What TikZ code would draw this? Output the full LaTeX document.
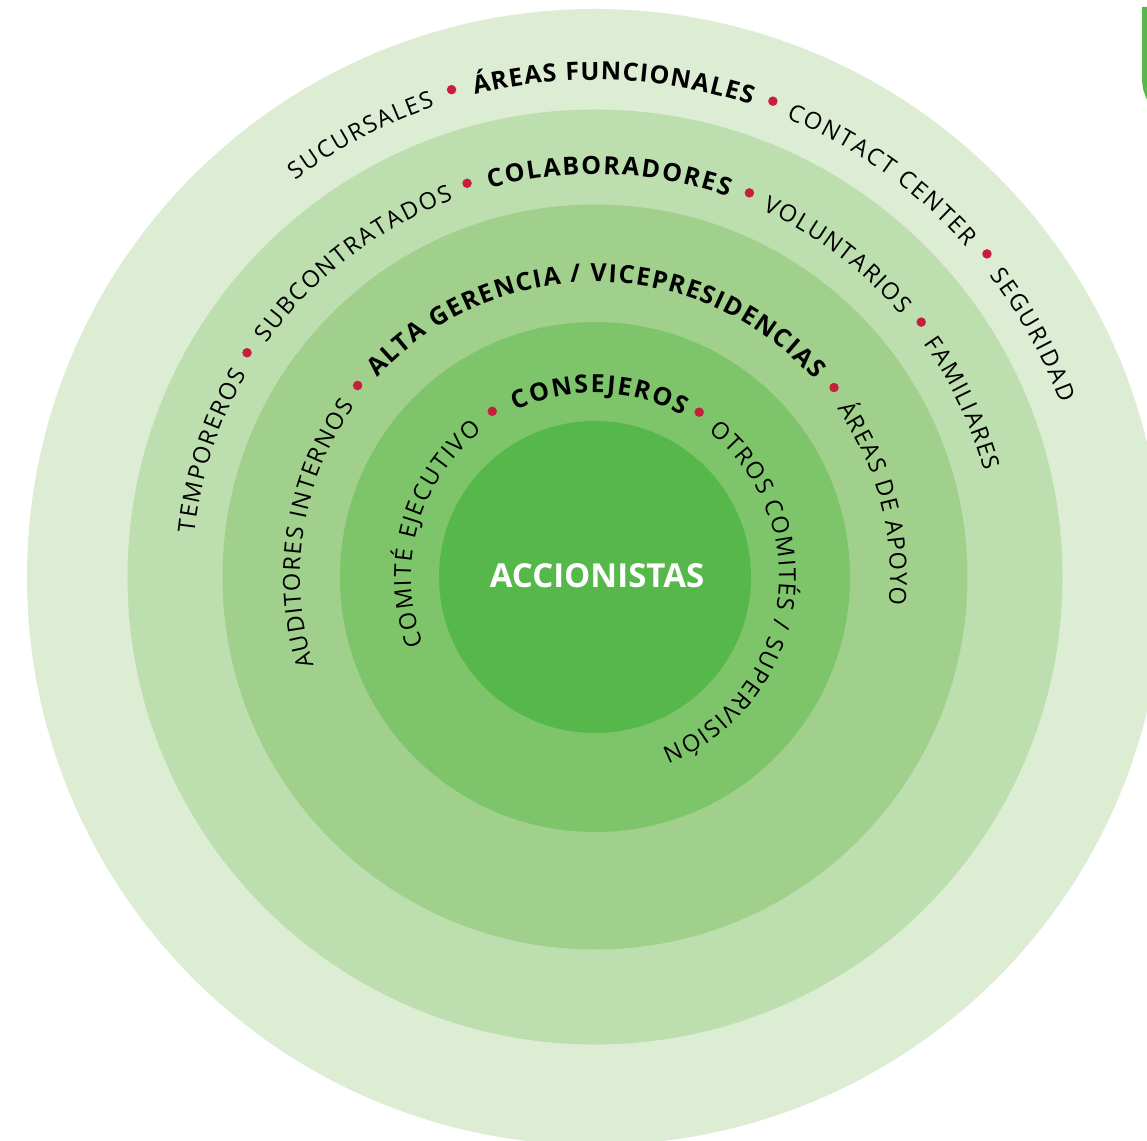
\documentclass[tikz,border=0pt]{standalone}
\usepackage{fontspec}
\newfontfamily\ringfont{Open Sans}
\usetikzlibrary{decorations.text}
\definecolor{ringA}{RGB}{221,237,212}
\definecolor{ringB}{RGB}{189,222,175}
\definecolor{ringC}{RGB}{160,208,140}
\definecolor{ringD}{RGB}{126,196,106}
\definecolor{ringE}{RGB}{86,184,74}
\definecolor{dotred}{RGB}{200,30,62}
\newcommand\rf{\ringfont\fontsize{23.5}{27}\selectfont}
\newcommand\rb{\ringfont\bfseries\fontsize{25}{29}\selectfont}
\begin{document}
\begin{tikzpicture}[
  ring/.style={circle, minimum size=#1, inner sep=0pt, draw=none},
  dotn/.style={circle, fill=dotred, minimum size=9.5pt, inner sep=0pt},
  arctext/.style={decorate, decoration={text along path, text={#1}, text align={fit to path}}}
]
\useasboundingbox (-595pt,-563pt) rectangle (552pt,577pt);
\fill[white] (-595pt,-563pt) rectangle (552pt,577pt);
\clip (-595pt,-563pt) rectangle (552pt,577pt);
% rings
\node[ring=1136pt, fill=ringA] (r1) at (0,0) {};
\node[ring=935pt, fill=ringB] (r2) at (0,0) {};
\node[ring=745pt, fill=ringC] (r3) at (0,0) {};
\node[ring=510pt, fill=ringD] (r4) at (0,0) {};
\node[ring=312pt, fill=ringE] (r5) at (0,0) {};
\node[font=\ringfont\bfseries\fontsize{33}{33}\selectfont, text=white] (acc) at (2pt,1pt) {ACCIONISTAS};
% corner mark
\fill[ringE] (547pt,570pt) -- (547pt,500pt) to[out=-90,in=115] (553pt,475pt) -- (560pt,475pt) -- (560pt,570pt) -- cycle;
% ring 1
\path[arctext={|\rf|SUCURSALES}] (127:497pt) arc[start angle=127, end angle=108.8, radius=497pt];
\path[arctext={|\rb|ÁREAS FUNCIONALES}] (104:497pt) arc[start angle=104, end angle=71.7, radius=497pt];
\path[arctext={|\rf|CONTACT CENTER}] (67.4:497pt) arc[start angle=67.4, end angle=41.6, radius=497pt];
\path[arctext={|\rf|SEGURIDAD}] (37.4:497pt) arc[start angle=37.4, end angle=20.5, radius=497pt];
\node[dotn] (d11) at (106.4:508pt) {};
\node[dotn] (d12) at (69.5:508pt) {};
\node[dotn] (d13) at (39.5:508pt) {};
% ring 2
\path[arctext={|\rf|TEMPOREROS}] (173.8:403pt) arc[start angle=173.8, end angle=149.8, radius=403pt];
\path[arctext={|\rf|SUBCONTRATADOS}] (144.6:403pt) arc[start angle=144.6, end angle=110.6, radius=403pt];
\path[arctext={|\rb|COLABORADORES}] (105.2:403pt) arc[start angle=105.2, end angle=70.7, radius=403pt];
\path[arctext={|\rf|VOLUNTARIOS}] (65.5:403pt) arc[start angle=65.5, end angle=40.6, radius=403pt];
\path[arctext={|\rf|FAMILIARES}] (35.4:403pt) arc[start angle=35.4, end angle=15.2, radius=403pt];
\node[dotn] (d21) at (147.2:414pt) {};
\node[dotn] (d22) at (108:414pt) {};
\node[dotn] (d23) at (68.1:414pt) {};
\node[dotn] (d24) at (38:414pt) {};
% ring 3
\path[arctext={|\rf|AUDITORES INTERNOS}] (197.5:295pt) arc[start angle=197.5, end angle=144.6, radius=295pt];
\path[arctext={|\rb|ALTA GERENCIA / VICEPRESIDENCIAS}] (137.6:295pt) arc[start angle=137.6, end angle=41.9, radius=295pt];
\path[arctext={|\rf|ÁREAS DE APOYO}] (34.9:295pt) arc[start angle=34.9, end angle=-5.4, radius=295pt];
\node[dotn] (d31) at (141.1:305pt) {};
\node[dotn] (d32) at (38.4:305pt) {};
% ring 4
\path[arctext={|\rf|COMITÉ EJECUTIVO}] (201.5:184pt) arc[start angle=201.5, end angle=127.5, radius=184pt];
\path[arctext={|\rb|CONSEJEROS}] (115.5:184pt) arc[start angle=115.5, end angle=61.5, radius=184pt];
\path[arctext={|\rf|OTROS COMITÉS / SUPERVISIÓN}] (52:184pt) arc[start angle=52, end angle=-68.8, radius=184pt];
\node[dotn] (d41) at (121.8:195pt) {};
\node[dotn] (d42) at (57.7:195pt) {};
\end{tikzpicture}
\end{document}
